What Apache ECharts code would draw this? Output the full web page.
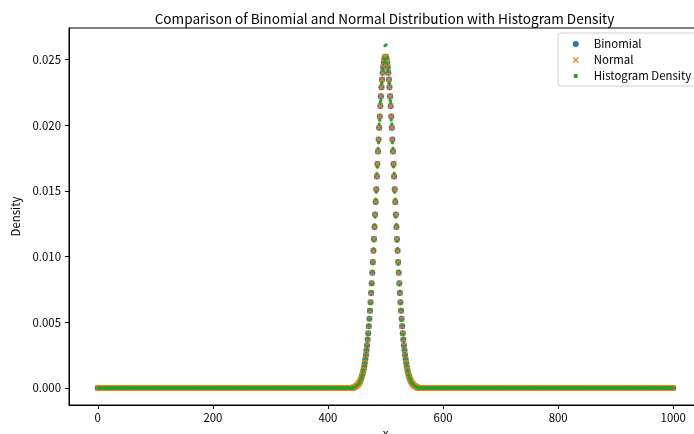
<!DOCTYPE html>
<html><head><meta charset="utf-8">
<script src="https://cdn.jsdelivr.net/npm/echarts@6/dist/echarts.min.js"></script>
<style>html,body{margin:0;padding:0;background:#fff}#c{width:694px;height:434px}</style>
</head><body><div id="c"></div>
<script>
const chartTitle = 'Comparison of Binomial and Normal Distribution with Histogram Density';
const seriesNames = ['Binomial', 'Normal', 'Histogram Density'];
const xFirst = 0, xLast = 1000;          // x domain: every integer k
const centerStart = 445;                 // first k of the visible (non-zero) part
const tailValue = 0;                     // value read outside the bell
const binomialCenter = [
0.00006,0.00007,0.00009,0.00011,0.00014,0.00017,0.00021,0.00025,0.00030,0.00037,
0.00044,0.00053,0.00063,0.00074,0.00087,0.00103,0.00120,0.00141,0.00163,0.00189,
0.00218,0.00250,0.00286,0.00325,0.00369,0.00417,0.00469,0.00526,0.00587,0.00653,
0.00723,0.00797,0.00876,0.00958,0.01044,0.01134,0.01226,0.01320,0.01416,0.01512,
0.01609,0.01705,0.01799,0.01892,0.01981,0.02066,0.02146,0.02220,0.02288,0.02348,
0.02400,0.02444,0.02478,0.02503,0.02518,
0.02522,
0.02518,0.02503,0.02478,0.02444,0.02400,0.02348,0.02288,0.02220,0.02146,0.02066,
0.01981,0.01892,0.01799,0.01705,0.01609,0.01512,0.01416,0.01320,0.01226,0.01134,
0.01044,0.00958,0.00876,0.00797,0.00723,0.00653,0.00587,0.00526,0.00469,0.00417,
0.00369,0.00325,0.00286,0.00250,0.00218,0.00189,0.00163,0.00141,0.00120,0.00103,
0.00087,0.00074,0.00063,0.00053,0.00044,0.00037,0.00030,0.00025,0.00021,0.00017,
0.00014,0.00011,0.00009,0.00007,0.00006];
const normalCenter = [
0.00006,0.00007,0.00009,0.00011,0.00014,0.00017,0.00021,0.00025,0.00030,0.00037,
0.00044,0.00053,0.00063,0.00074,0.00088,0.00103,0.00121,0.00141,0.00163,0.00189,
0.00218,0.00250,0.00286,0.00325,0.00369,0.00417,0.00469,0.00526,0.00587,0.00653,
0.00723,0.00797,0.00876,0.00958,0.01044,0.01134,0.01226,0.01320,0.01416,0.01512,
0.01609,0.01705,0.01799,0.01892,0.01981,0.02066,0.02146,0.02220,0.02288,0.02348,
0.02400,0.02444,0.02478,0.02503,0.02518,
0.02523,
0.02518,0.02503,0.02478,0.02444,0.02400,0.02348,0.02288,0.02220,0.02146,0.02066,
0.01981,0.01892,0.01799,0.01705,0.01609,0.01512,0.01416,0.01320,0.01226,0.01134,
0.01044,0.00958,0.00876,0.00797,0.00723,0.00653,0.00587,0.00526,0.00469,0.00417,
0.00369,0.00325,0.00286,0.00250,0.00218,0.00189,0.00163,0.00141,0.00121,0.00103,
0.00088,0.00074,0.00063,0.00053,0.00044,0.00037,0.00030,0.00025,0.00021,0.00017,
0.00014,0.00011,0.00009,0.00007,0.00006];
const histogramCenter = [
0.00005,0.00008,0.00008,0.00012,0.00013,0.00018,0.00020,0.00027,0.00029,0.00036,
0.00046,0.00051,0.00066,0.00072,0.00090,0.00100,0.00124,0.00138,0.00167,0.00185,
0.00222,0.00246,0.00291,0.00318,0.00377,0.00409,0.00478,0.00519,0.00598,0.00641,
0.00735,0.00786,0.00889,0.00944,0.01061,0.01118,0.01243,0.01301,0.01437,0.01490,
0.01632,0.01680,0.01824,0.01866,0.02010,0.02038,0.02175,0.02190,0.02318,0.02322,
0.02432,0.02415,0.02510,0.02480,0.02605,
0.02498,
0.02612,0.02470,0.02515,0.02410,0.02436,0.02320,0.02320,0.02190,0.02178,0.02040,
0.02010,0.01866,0.01825,0.01682,0.01633,0.01490,0.01438,0.01300,0.01245,0.01115,
0.01062,0.00940,0.00891,0.00783,0.00737,0.00640,0.00599,0.00514,0.00480,0.00407,
0.00378,0.00317,0.00293,0.00244,0.00224,0.00184,0.00168,0.00137,0.00124,0.00100,
0.00090,0.00072,0.00065,0.00051,0.00046,0.00036,0.00031,0.00024,0.00022,0.00016,
0.00015,0.00010,0.00010,0.00006,0.00007];
const xTickValues = [0, 200, 400, 600, 800, 1000];
const yTickValues = [0, 0.005, 0.010, 0.015, 0.020, 0.025];

const ks = [];
for (let k = xFirst; k <= xLast; k++) ks.push(k);
function build(center) {
  return ks.map(k => {
    const i = k - centerStart;
    return [k, (i >= 0 && i < center.length) ? center[i] : tailValue];
  });
}

const FONT = 'Noto Sans CJK JP';
const crossPath = 'path://M0,1.5L1.5,0L5,3.5L8.5,0L10,1.5L6.5,5L10,8.5L8.5,10L5,6.5L1.5,10L0,8.5L3.5,5Z';
const chart = echarts.init(document.getElementById('c'), null, {renderer: 'canvas'});
chart.setOption({
  animation: false,
  backgroundColor: '#fff',
  title: {
    text: chartTitle, left: 379.5, textAlign: 'center', top: 7,
    textStyle: {fontFamily: FONT, fontSize: 13.6, fontWeight: 'normal', color: '#000'}
  },
  legend: {
    orient: 'vertical', left: 558, top: 33,
    padding: [4, 10, 3, 14],
    itemWidth: 10, itemHeight: 6, itemGap: 2,
    borderColor: '#d0d0d0', borderWidth: 1, borderRadius: 3, backgroundColor: '#fff',
    textStyle: {fontFamily: FONT, fontSize: 11.4, color: '#000', lineHeight: 14, padding: [0, 0, 0, 8]},
    data: [
      {name: seriesNames[0], icon: 'circle'},
      {name: seriesNames[1], icon: crossPath},
      {name: seriesNames[2], icon: 'circle', itemStyle: {borderColor: '#fff', borderWidth: 1.5}}
    ]
  },
  grid: {left: 69, top: 28, width: 633, height: 377, show: true, borderColor: '#000', borderWidth: 1,
    containLabel: false, outerBoundsMode: 'none'},
  xAxis: {
    type: 'value', min: -50, max: 1050,
    name: 'x', nameLocation: 'middle', nameGap: 21,
    nameTextStyle: {fontFamily: FONT, fontSize: 11.4, color: '#000'},
    axisLine: {show: true, onZero: false, lineStyle: {color: '#000', width: 1}},
    axisTick: {show: true, length: 4, inside: false, customValues: xTickValues, lineStyle: {color: '#000'}},
    axisLabel: {customValues: xTickValues, margin: 7, fontFamily: FONT, fontSize: 11.4, color: '#000',
      formatter: v => String(v)},
    splitLine: {show: false}
  },
  yAxis: {
    type: 'value', min: -0.0013, max: 0.0274,
    name: 'Density', nameLocation: 'middle', nameGap: 36, nameRotate: 90,
    nameTextStyle: {fontFamily: FONT, fontSize: 11.4, color: '#000'},
    axisLine: {show: true, onZero: false, lineStyle: {color: '#000', width: 1}},
    axisTick: {show: true, length: 4, inside: false, customValues: yTickValues, lineStyle: {color: '#000'}},
    axisLabel: {customValues: yTickValues, margin: 8, fontFamily: FONT, fontSize: 11.4, color: '#000',
      formatter: v => v.toFixed(3)},
    splitLine: {show: false}
  },
  series: [
    {name: seriesNames[0], type: 'scatter', symbol: 'circle', symbolSize: 6,
      itemStyle: {color: '#1f77b4', opacity: 1}, data: build(binomialCenter), z: 2},
    {name: seriesNames[1], type: 'scatter', symbol: crossPath, symbolSize: 6,
      itemStyle: {color: '#ff7f0e', opacity: 1}, data: build(normalCenter), z: 3},
    {name: seriesNames[2], type: 'scatter', symbol: 'circle', symbolSize: 3.2,
      itemStyle: {color: '#2ca02c', opacity: 1}, data: build(histogramCenter), z: 4}
  ]
});
</script></body></html>
